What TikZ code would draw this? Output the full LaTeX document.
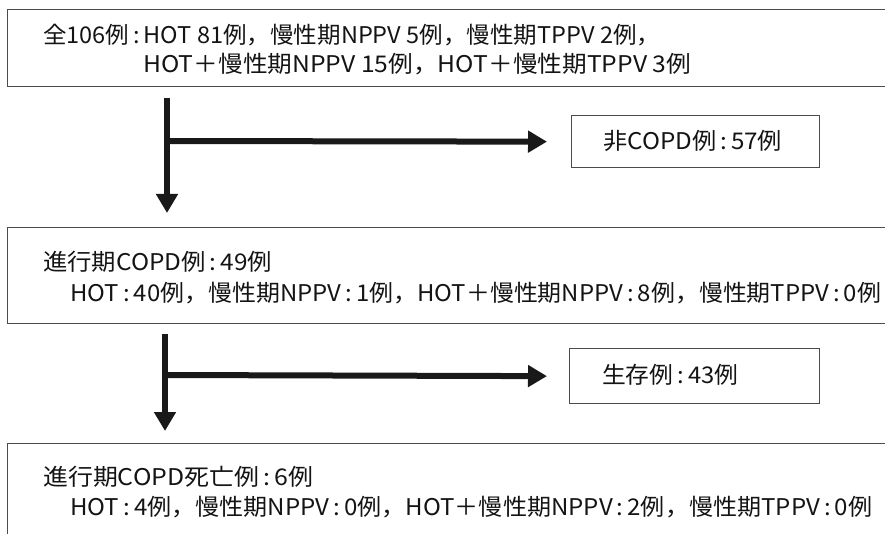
\documentclass[tikz,border=0pt]{standalone}
\usepackage{fontspec}
\setmainfont{Noto Sans CJK JP}
\usepackage{graphicx}
\usetikzlibrary{arrows.meta}
\newcommand\fitw[2]{\resizebox{#1pt}{\height}{#2}}
\newcommand\cln{\,:\,}
\begin{document}
\begin{tikzpicture}[x=1pt,y=-1pt,
  box/.style={draw=black!70, line width=1.4pt, fill=none, rectangle, inner sep=0pt, anchor=north west},
  txt/.style={inner sep=0pt, anchor=west, text=black!92, font=\fontsize{23}{27}\selectfont},
  arr/.style={draw=black!90, line width=6pt, -{Triangle[width=21pt,length=19pt]}}]
\clip (0,0) rectangle (885,534);
\fill[white] (0,0) rectangle (885,534);
% boxes
\node[box, minimum width=900pt, minimum height=77pt] (b1) at (7,9) {};
\node[box, minimum width=248pt, minimum height=52pt] (s1) at (571,115) {};
\node[box, minimum width=900pt, minimum height=96pt] (b2) at (7,227) {};
\node[box, minimum width=250pt, minimum height=55pt] (s2) at (569,348) {};
\node[box, minimum width=900pt, minimum height=120pt] (b3) at (7,443) {};
% texts
\node[txt] (t1a) at (43,35) {\fitw{617}{全106例\cln HOT 81例，慢性期NPPV 5例，慢性期TPPV 2例，}};
\node[txt] (t1b) at (143,64) {\fitw{548}{HOT＋慢性期NPPV 15例，HOT＋慢性期TPPV 3例}};
\node[txt] (ts1) at (603,141) {\fitw{179}{非COPD例\cln 57例}};
\node[txt] (t2a) at (43,262) {\fitw{229}{進行期COPD例\cln 49例}};
\node[txt] (t2b) at (70,293) {\fitw{811}{HOT\cln 40例，慢性期NPPV\cln 1例，HOT＋慢性期NPPV\cln 8例，慢性期TPPV\cln 0例}};
\node[txt] (ts2) at (602,375) {\fitw{136}{生存例\cln 43例}};
\node[txt] (t3a) at (43,477) {\fitw{270}{進行期COPD死亡例\cln 6例}};
\node[txt] (t3b) at (70,507) {\fitw{802}{HOT\cln 4例，慢性期NPPV\cln 0例，HOT＋慢性期NPPV\cln 2例，慢性期TPPV\cln 0例}};
% connectors
\coordinate (c1) at (167,0);
\coordinate (c2) at (165,0);
\coordinate (j1) at (167,141);
\coordinate (j2) at (165,375);
\draw[arr, shorten <=11pt, shorten >=14pt] (b1.south -| c1) -- (b2.north -| c1);
\draw[arr, shorten >=24pt] (j1) -- (s1.west);
\draw[arr, shorten <=10pt, shorten >=12pt] (b2.south -| c2) -- (b3.north -| c2);
\draw[arr, shorten >=22pt] (j2) -- (s2.west);
\end{tikzpicture}
\end{document}
